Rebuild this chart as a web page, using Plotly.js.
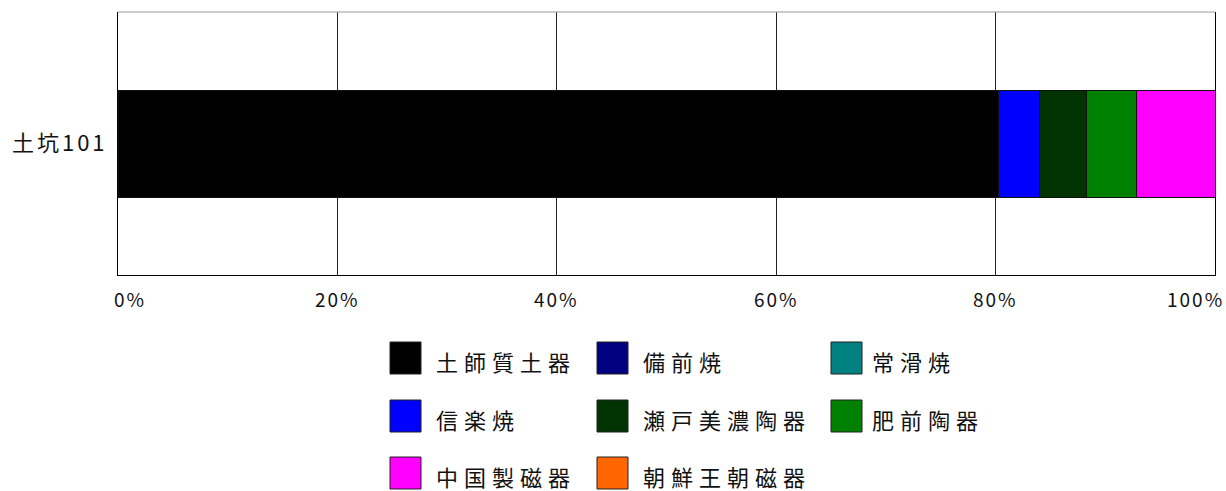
<!DOCTYPE html>
<html>
<head>
<meta charset="utf-8">
<script src="https://cdn.plot.ly/plotly-3.0.1.min.js"></script>
<style>
html,body{margin:0;padding:0;background:#fff;}
#chart{width:1226px;height:491px;}
</style>
</head>
<body>
<div id="chart"></div>
<script>
// ---- data ----
const rowLabels = ['土坑101'];
const seriesNames = ['土師質土器','備前焼','常滑焼','信楽焼','瀬戸美濃陶器','肥前陶器','中国製磁器','朝鮮王朝磁器'];
const seriesValues = [80.3, 0, 0, 3.7, 4.3, 4.5, 7.2, 0];
const seriesColors = ['#000000','#000080','#008080','#0000ff','#003300','#008000','#ff00ff','#ff6600'];
const tickValues = [0, 20, 40, 60, 80, 100];
const tickLabels = ['0%','20%','40%','60%','80%','100%'];

// ---- layout helpers (pixel geometry of the reference) ----
const W = 1226, H = 491;
const M = {l:118, r:11, t:12, b:216};
const plotW = W - M.l - M.r, plotH = H - M.t - M.b;
const xp = px => (px - M.l) / plotW;
const yp = py => (H - M.b - py) / plotH;
const FONT = '"Noto Sans CJK JP", "Noto Sans", sans-serif';

const traces = seriesNames.map((name, i) => ({
  type: 'bar',
  orientation: 'h',
  name: name,
  y: rowLabels,
  x: [seriesValues[i]],
  marker: {color: seriesColors[i], line: {color: '#111', width: 1}},
  showlegend: false,
  hoverinfo: 'name+x'
}));

const shapes = [
  {type:'line', xref:'paper', yref:'paper', x0:0, x1:1, y0:1, y1:1, line:{color:'#999', width:1}}
];
const annotations = [];

// x tick labels
tickValues.forEach((v, i) => {
  const first = i === 0, last = i === tickValues.length - 1;
  annotations.push({
    xref:'x', x:v, yref:'paper', y:yp(283), yanchor:'top',
    xanchor: first ? 'left' : (last ? 'right' : 'center'),
    xshift: first ? -6 : (last ? 11 : 0),
    text: '<span style="letter-spacing:2px">' + tickLabels[i] + '</span>',
    showarrow:false, font:{family:FONT, size:19, color:'#111'}
  });
});

// custom legend (3 columns)
const colX = [390, 597, 831];
const rowY = [342, 400, 457];
const sw = 31, sh = 32;
seriesNames.forEach((name, i) => {
  const c = i % 3, r = Math.floor(i / 3);
  const x0 = colX[c], y0 = rowY[r];
  shapes.push({type:'rect', xref:'paper', yref:'paper',
    x0:xp(x0), x1:xp(x0+sw), y0:yp(y0+sh), y1:yp(y0),
    fillcolor: seriesColors[i], line:{color:'#222', width:1}});
  annotations.push({
    xref:'paper', yref:'paper', x:xp(x0 + (c===2 ? 39 : 44)), y:yp(y0 + sh/2 + 3),
    xanchor:'left', yanchor:'middle', showarrow:false,
    text:'<span style="letter-spacing:6px">' + name + '</span>',
    font:{family:FONT, size:22, color:'#111'}
  });
});

const layout = {
  width: W, height: H,
  margin: M,
  paper_bgcolor:'#fff', plot_bgcolor:'#fff',
  barmode:'stack',
  bargap: 1 - 107/plotH,
  showlegend:false,
  font:{family:FONT, color:'#111'},
  xaxis:{
    range:[0,100], tickvals:tickValues, showticklabels:false,
    showgrid:true, gridcolor:'#222', gridwidth:1,
    showline:true, linecolor:'#000', linewidth:1,
    zeroline:false, ticks:'', fixedrange:true
  },
  yaxis:{
    showline:true, mirror:true, linecolor:'#000', linewidth:1,
    showgrid:false, zeroline:false, ticks:'',
    tickvals: rowLabels,
    ticktext: rowLabels.map(t => '<span style="letter-spacing:3px">' + t + '</span>'),
    tickfont:{family:FONT, size:22, color:'#111'},
    ticklabelstandoff: 5,
    fixedrange:true
  },
  shapes: shapes,
  annotations: annotations
};

Plotly.newPlot('chart', traces, layout, {displayModeBar:false, staticPlot:true});
</script>
</body>
</html>
